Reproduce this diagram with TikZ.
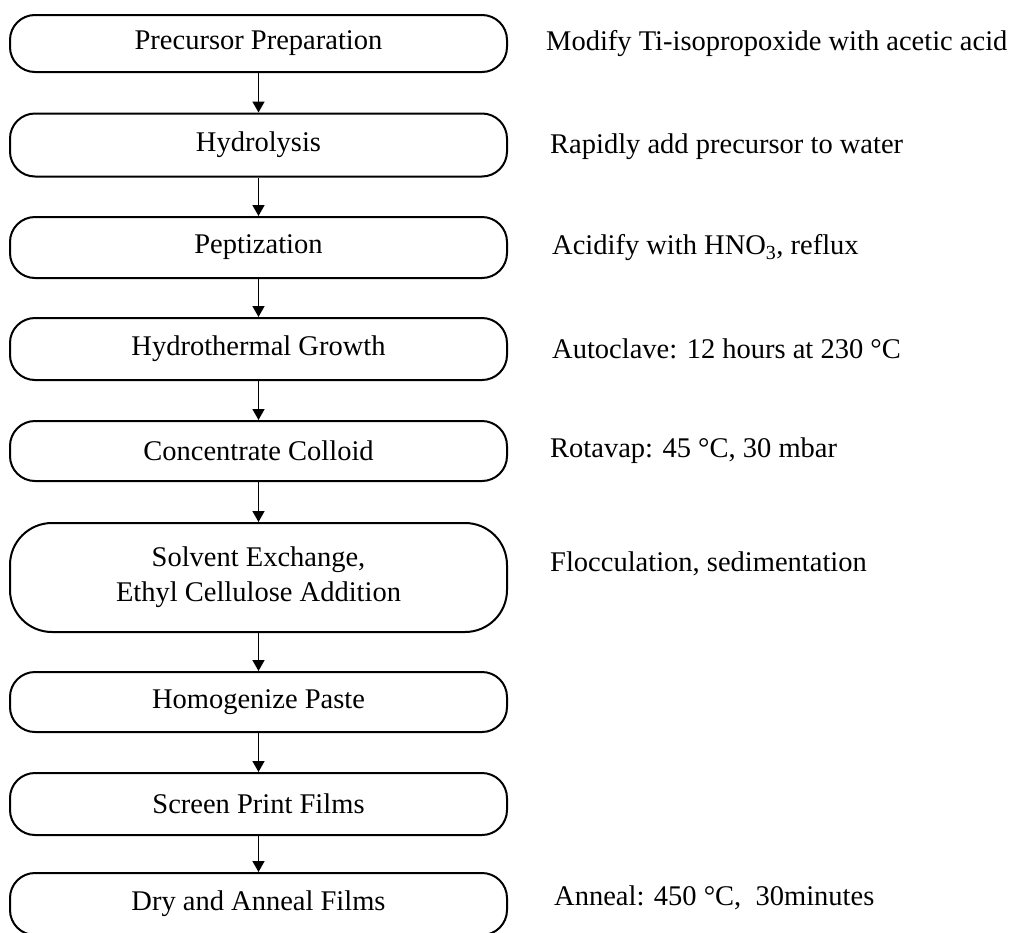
\documentclass[tikz,border=0pt]{standalone}
\usepackage{fontspec}
\setmainfont{Liberation Serif}
\usetikzlibrary{arrows.meta}
\begin{document}
\begin{tikzpicture}[x=1pt,y=-1pt,
  stepbox/.style={draw=black, line width=2pt, rounded corners=25pt, minimum width=497pt, inner sep=0pt, align=center, font=\fontsize{28.5}{35}\selectfont},
  bigbox/.style={stepbox, rounded corners=42pt},
  note/.style={anchor=west, inner sep=0pt, font=\fontsize{28.5}{35}\selectfont},
  arr/.style={line width=1.6pt, -{Triangle[width=12pt,length=11pt]}}]
\useasboundingbox (0,0) rectangle (1012,932);
\fill[white] (0,0) rectangle (1012,932);
\node[stepbox, minimum height=57pt] (b1) at (258.5,43.5) {Precursor Preparation};
\node[stepbox, minimum height=63pt] (b2) at (258.5,145) {Hydrolysis};
\node[stepbox, minimum height=61pt] (b3) at (258.5,247.5) {Peptization};
\node[stepbox, minimum height=62pt] (b4) at (258.5,349) {Hydrothermal Growth};
\node[stepbox, minimum height=60pt] (b5) at (258.5,451) {Concentrate Colloid};
\node[bigbox, minimum height=109pt] (b6) at (258.5,577.5) {Solvent Exchange,\\Ethyl Cellulose Addition};
\node[stepbox, minimum height=60pt] (b7) at (258.5,702) {Homogenize Paste};
\node[stepbox, minimum height=62pt] (b8) at (258.5,804) {Screen Print Films};
\node[stepbox, minimum height=62pt] (b9) at (258.5,904) {Dry and Anneal Films};
\draw[arr] (b1) -- (b2);
\draw[arr] (b2) -- (b3);
\draw[arr] (b3) -- (b4);
\draw[arr] (b4) -- (b5);
\draw[arr] (b5) -- (b6);
\draw[arr] (b6) -- (b7);
\draw[arr] (b7) -- (b8);
\draw[arr] (b8) -- (b9);
\node[note] (n1) at (546,43.5) {Modify Ti-isopropoxide with acetic acid};
\node[note] (n2) at (550,147) {Rapidly add precursor to water};
\node[note] (n3) at (552,248) {Acidify with HNO\textsubscript{3}, reflux};
\node[note] (n4) at (552,349) {Autoclave: 12 hours at 230 °C};
\node[note] (n5) at (550,451) {Rotavap: 45 °C, 30 mbar};
\node[note] (n6) at (550,564) {Flocculation, sedimentation};
\node[note] (n9) at (554,898) {Anneal: 450 °C,\ \ 30minutes};
\end{tikzpicture}
\end{document}
